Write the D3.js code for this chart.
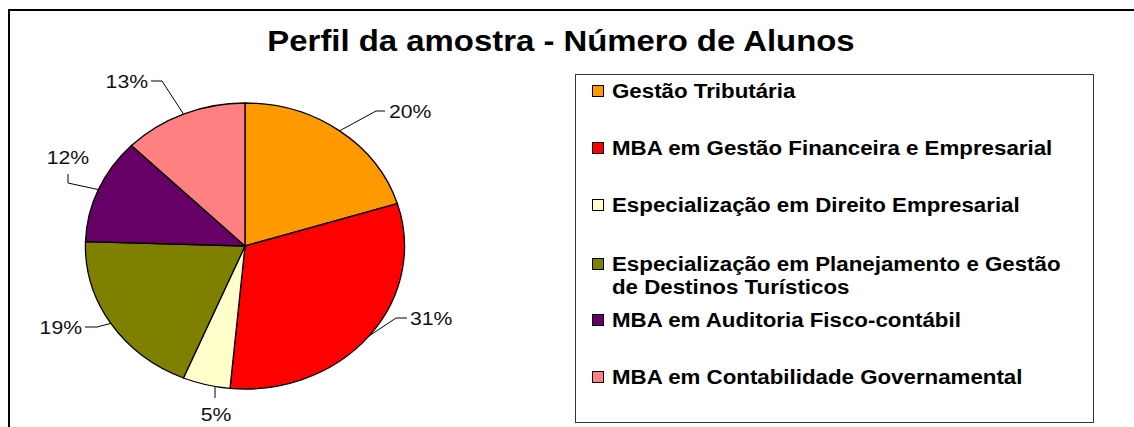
<!DOCTYPE html>
<html lang="pt">
<head>
<meta charset="UTF-8">
<title>Perfil da amostra</title>
<script src="https://cdnjs.cloudflare.com/ajax/libs/d3/7.8.5/d3.min.js"></script>
<style>
  body { margin: 0; background: #fff; }
  svg { display: block; font-family: "Liberation Sans", Arial, sans-serif; }
</style>
</head>
<body>
<div id="chart"></div>
<script>
// data (percent of students per course)
const courses = [
  "Gestão Tributária",
  "MBA em Gestão Financeira e Empresarial",
  "Especialização em Direito Empresarial",
  "Especialização em Planejamento e Gestão|de Destinos Turísticos",
  "MBA em Auditoria Fisco-contábil",
  "MBA em Contabilidade Governamental"
];
const shares = [20.2, 31.3, 4.8, 19.2, 11.9, 12.6];
const colors = ["#ff9900", "#ff0000", "#ffffcc", "#808000", "#660066", "#ff8080"];
const pctLabels = ["20%", "31%", "5%", "19%", "12%", "13%"];

const W = 1134, H = 427;
const cx = 245, cy = 246, rx = 159.5, ry = 143;
const stretch = rx / ry; // the original picture is widened horizontally

// label placement relative to pie centre: elbow of leader, leader end, text pos
const labelLayout = [
  { elbow: [131, -135], end: [140, -135], text: [144, -135], anchor: "start" },
  { elbow: [151, 72], end: [162, 72], text: [165, 72], anchor: "start" },
  { elbow: [-30, 152], end: [-30, 152], text: [-29, 168], anchor: "middle", vertical: true },
  { elbow: [-148, 81], end: [-160, 81], text: [-163, 81], anchor: "end" },
  { elbow: [-177, -63], end: [-177, -72], text: [-177, -89], anchor: "middle" },
  { elbow: [-83, -165], end: [-94, -165], text: [-97, -165], anchor: "end" }
];

const svg = d3.select("#chart").append("svg")
  .attr("width", W).attr("height", H);

function stretchedText(parent, x, y) {
  return parent.append("text")
    .attr("transform", `translate(${x},${y}) scale(${stretch},1)`);
}

// outer chart border (top and left visible)
svg.append("path")
  .attr("d", `M9,${H} V10 H${W}`)
  .attr("fill", "none").attr("stroke", "#000").attr("stroke-width", 2);

stretchedText(svg, 561, 51)
  .attr("text-anchor", "middle")
  .attr("font-size", 29.5).attr("font-weight", "bold")
  .text("Perfil da amostra - Número de Alunos");

const pie = d3.pie().sort(null).value(d => d)(shares);
const arc = d3.arc().innerRadius(0).outerRadius(1);

const g = svg.append("g").attr("transform", `translate(${cx},${cy})`);
g.append("g").attr("transform", `scale(${rx},${ry})`)
  .selectAll("path").data(pie).join("path")
  .attr("d", arc)
  .attr("fill", (d, i) => colors[i])
  .attr("stroke", "#000").attr("stroke-width", 1.3)
  .attr("vector-effect", "non-scaling-stroke");

// leader lines + percent labels
pie.forEach((d, i) => {
  const L = labelLayout[i];
  let p0;
  if (L.vertical) {
    const x = L.elbow[0];
    p0 = [x, ry * Math.sqrt(1 - (x / rx) ** 2)];
  } else {
    const a = (d.startAngle + d.endAngle) / 2;
    p0 = [rx * Math.sin(a), -ry * Math.cos(a)];
  }
  g.append("polyline")
    .attr("points", [p0, L.elbow, L.end].map(p => p.join(",")).join(" "))
    .attr("fill", "none").attr("stroke", "#000").attr("stroke-width", 1);
  stretchedText(g, L.text[0], L.text[1])
    .attr("dy", "0.35em")
    .attr("text-anchor", L.anchor)
    .attr("font-size", 19).attr("fill", "#111")
    .text(pctLabels[i]);
});

// legend
const legendY = [91, 148, 205, 264, 320, 377];
const leg = svg.append("g");
leg.append("rect")
  .attr("x", 575.5).attr("y", 74.5).attr("width", 518).attr("height", 348)
  .attr("fill", "#fff").attr("stroke", "#333").attr("stroke-width", 1);

courses.forEach((c, i) => {
  const y = legendY[i];
  leg.append("rect")
    .attr("x", 592.5).attr("y", y - 5.5).attr("width", 11).attr("height", 11)
    .attr("fill", colors[i]).attr("stroke", "#000").attr("stroke-width", 1);
  const t = stretchedText(leg, 612, y)
    .attr("font-size", 20).attr("font-weight", "bold");
  c.split("|").forEach((line, j) => {
    t.append("tspan").attr("x", 0).attr("dy", j === 0 ? "0.35em" : 23).text(line);
  });
});
</script>
</body>
</html>
